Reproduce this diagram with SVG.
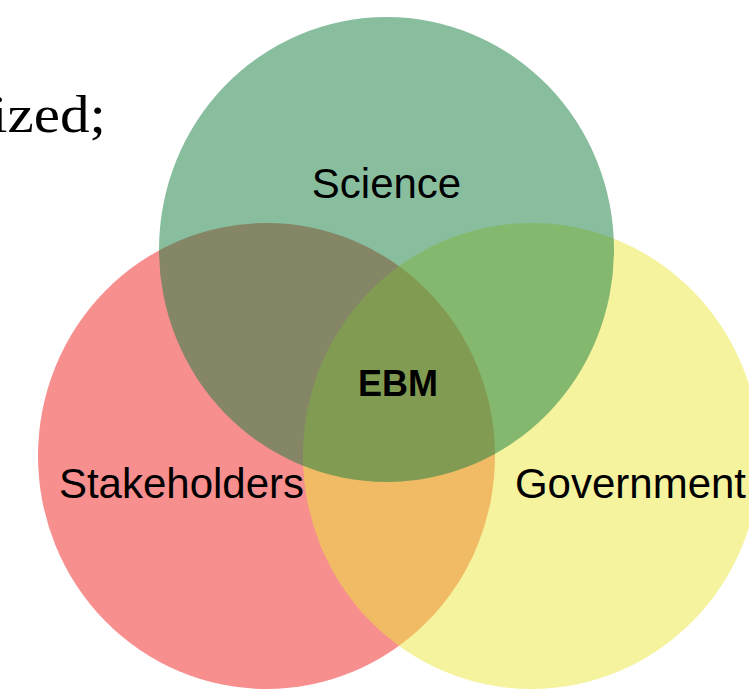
<svg xmlns="http://www.w3.org/2000/svg" width="749" height="694" viewBox="0 0 749 694">
<style>
.lbl{font-family:"Liberation Sans",Arial,sans-serif;font-size:42px;fill:#000;text-anchor:middle}
.core{font-family:"Liberation Sans",Arial,sans-serif;font-size:36px;font-weight:bold;fill:#000;text-anchor:middle}
.ser{font-family:"Liberation Serif","Times New Roman",serif;font-size:53px;fill:#000}
.c{fill-opacity:0.5;stroke:none}
</style>
<rect width="749" height="694" fill="#ffffff"/>
<text class="ser" x="-9" y="132" textLength="115" lengthAdjust="spacingAndGlyphs">ized;</text>
<g id="stakeholders">
<ellipse class="c" cx="266.5" cy="456" rx="228.5" ry="233" fill="#EF1F1F"/>
</g>
<g id="government">
<ellipse class="c" cx="531.5" cy="456" rx="228.5" ry="233" fill="#EBE73D"/>
</g>
<g id="science">
<ellipse class="c" cx="386.5" cy="249.5" rx="227.5" ry="232.5" fill="#117D3D"/>
</g>
<g id="labels">
<text class="lbl" x="386.5" y="198">Science</text>
<text class="lbl" x="181.5" y="498">Stakeholders</text>
<text class="lbl" x="630.5" y="498">Government</text>
<text class="core" x="398" y="396">EBM</text>
</g>
<g id="connectors"/>
</svg>
